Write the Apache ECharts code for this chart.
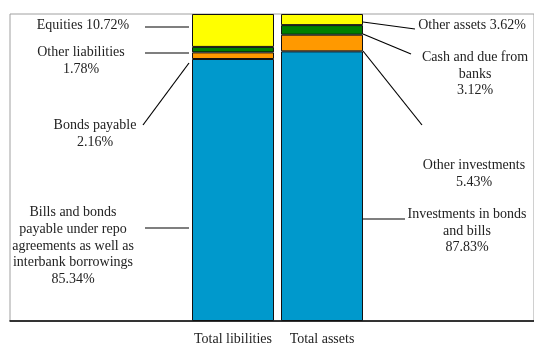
<!DOCTYPE html>
<html><head><meta charset="utf-8">
<script src="https://cdn.jsdelivr.net/npm/echarts@6/dist/echarts.min.js"></script>
<style>html,body{margin:0;padding:0;background:#fff}#c{width:534px;height:351px}</style>
</head><body><div id="c"></div>
<script>
var categories = ['Total libilities', 'Total assets'];
var seriesNames = ['Main', 'Second', 'Third', 'Top'];
var mainValues = [85.34, 87.83];
var secondValues = [2.16, 5.43];
var thirdValues = [1.78, 3.12];
var topValues = [10.72, 3.62];
var colors = ['#0099CC', '#FF9900', '#008000', '#FFFF00'];

var leftLabels = [
  {text: 'Equities 10.72%', x: 83, y: 25, line: [[145, 27], [null, 27]]},
  {text: 'Other liabilities\n1.78%', x: 81, y: 61, line: [[145, 53], [null, 53]]},
  {text: 'Bonds payable\n2.16%', x: 95, y: 134, line: [[143, 125], [null, 63]]},
  {text: 'Bills and bonds\npayable under repo\nagreements as well as\ninterbank borrowings\n85.34%', x: 73, y: 246, line: [[145, 228], [null, 228]]}
];
var rightLabels = [
  {text: 'Other assets 3.62%', x: 472, y: 25, line: [[null, 22], [415, 29]]},
  {text: 'Cash and due from\nbanks\n3.12%', x: 475, y: 74, line: [[null, 34], [411, 54]]},
  {text: 'Other investments\n5.43%', x: 474, y: 174, line: [[null, 51], [422, 125]]},
  {text: 'Investments in bonds\nand bills\n87.83%', x: 467, y: 231, line: [[null, 219], [405, 219]]}
];

var font = '14px "Liberation Serif", "Times New Roman", serif';
var chart = echarts.init(document.getElementById('c'));
var vals = [mainValues, secondValues, thirdValues, topValues];
var series = vals.map(function (v, i) {
  return {
    name: seriesNames[i], type: 'bar', stack: 's', data: v, barWidth: 82,
    xAxisIndex: 0, yAxisIndex: 0,
    itemStyle: {color: colors[i], borderColor: '#111', borderWidth: 1},
    emphasis: {disabled: true}, silent: true
  };
});
chart.setOption({
  animation: false,
  grid: [
    {left: 188.5, width: 178, top: 14, bottom: 30},
    {left: 10, right: 0, top: 14, bottom: 30, show: true, borderColor: '#a0a0a0', borderWidth: 1, backgroundColor: 'transparent'}
  ],
  xAxis: [
    {type: 'category', gridIndex: 0, data: categories, axisLine: {show: false}, axisTick: {show: false},
     axisLabel: {interval: 0, hideOverlap: false, margin: 11, color: '#222', fontFamily: '"Liberation Serif", serif', fontSize: 14}},
    {type: 'value', gridIndex: 1, min: 0, max: 1, axisLine: {show: true, onZero: false, lineStyle: {color: '#000', width: 1.5}},
     axisTick: {show: false}, axisLabel: {show: false}, splitLine: {show: false}}
  ],
  yAxis: [
    {type: 'value', gridIndex: 0, min: 0, max: 100, show: false},
    {type: 'value', gridIndex: 1, min: 0, max: 1, show: false}
  ],
  series: series
});

var c0 = chart.convertToPixel({xAxisIndex: 0}, categories[0]);
var c1 = chart.convertToPixel({xAxisIndex: 0}, categories[1]);
var edgeL = c0 - 41 - 3;
var edgeR = c1 + 41;
var g = [];
function addLabel(l, edge) {
  var pts = l.line.map(function (p) { return [p[0] === null ? edge : p[0], p[1]]; });
  g.push({type: 'line', shape: {x1: pts[0][0], y1: pts[0][1], x2: pts[1][0], y2: pts[1][1]}, style: {stroke: '#000', lineWidth: 1.2}, silent: true});
  g.push({type: 'text', x: l.x, y: l.y, style: {text: l.text, font: font, fill: '#222', align: 'center', verticalAlign: 'middle', lineHeight: 16.8}, silent: true});
}
leftLabels.forEach(function (l) { addLabel(l, edgeL); });
rightLabels.forEach(function (l) { addLabel(l, edgeR); });
chart.setOption({graphic: g});
</script></body></html>
